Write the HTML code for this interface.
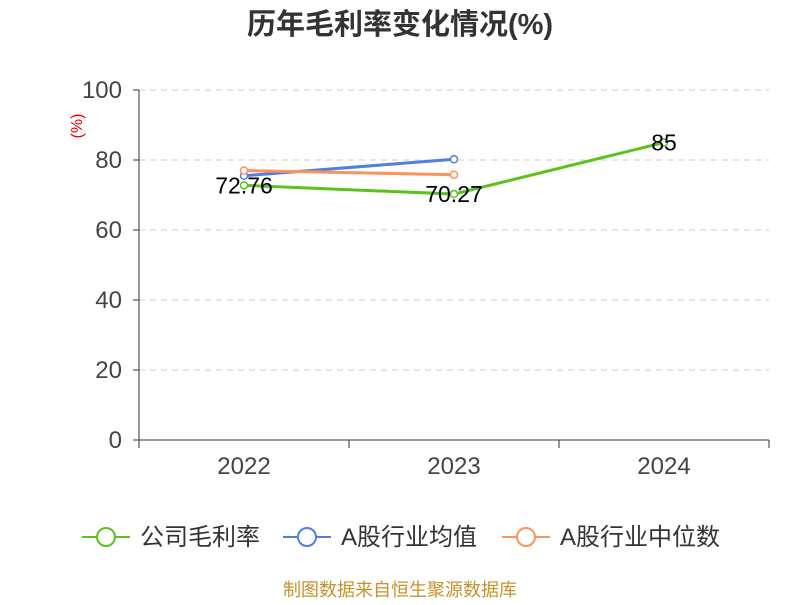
<!DOCTYPE html>
<html><head><meta charset="utf-8">
<style>
body{margin:0;background:#fff;font-family:"Liberation Sans","Noto Sans CJK SC",sans-serif;}
#wrap{position:relative;width:800px;height:600px;}
svg text{font-family:"Liberation Sans","Noto Sans CJK SC",sans-serif;}
</style></head><body>
<div id="wrap">
<svg id="chart" width="800" height="600"></svg>
</div>
<script>
const categories=["2022","2023","2024"];
const companyValues=[72.76,70.27,85];
const avgValues=[75.5,80.2,null];
const medianValues=[77,75.8,null];
const yTicks=[0,20,40,60,80,100];
const companyLabels=["72.76","70.27","85"];
const NS="http://www.w3.org/2000/svg";
const svg=document.getElementById('chart');
const L=139,R=769,T=90,B=440;
const bw=(R-L)/categories.length;
const xs=i=>L+bw*(i+0.5);
const ys=v=>B-(v/100)*(B-T);
function mk(tag,attrs,parent){const e=document.createElementNS(NS,tag);for(const k in attrs)e.setAttribute(k,attrs[k]);(parent||svg).appendChild(e);return e;}
let t=mk('text',{x:400,y:34,'text-anchor':'middle','font-size':29,'font-weight':'bold',fill:'#333'});
t.textContent='历年毛利率变化情况(%)';
t=mk('text',{x:82,y:126,'text-anchor':'middle','font-size':16,fill:'#e00',transform:'rotate(-90 82 126)'});
t.textContent='(%)';
yTicks.forEach(v=>{const y=ys(v);
 if(v>0){const g=mk('line',{x1:L,x2:R,y1:y,y2:y,stroke:'#ccc','stroke-dasharray':'6,5'});}
 const tk=mk('line',{x1:L-6,x2:L,y1:y,y2:y,stroke:'#333'});
 const tl=mk('text',{x:L-17,y:y+8,'text-anchor':'end','font-size':24,fill:'#444'});tl.textContent=v;});
let a=mk('line',{x1:L,x2:L,y1:T,y2:B,stroke:'#333'});
a=mk('line',{x1:L,x2:R,y1:B,y2:B,stroke:'#333'});
for(let i=0;i<=categories.length;i++){const x=L+bw*i;const tk=mk('line',{x1:x,x2:x,y1:B,y2:B+8,stroke:'#333'});}
categories.forEach((c,i)=>{const tl=mk('text',{x:xs(i),y:474,'text-anchor':'middle','font-size':24,fill:'#444'});tl.textContent=c;});
function series(vals,color,name){
 const pts=vals.map((v,i)=>v==null?null:[xs(i),ys(v)]).filter(p=>p);
 const pl=mk('polyline',{points:pts.map(p=>p.join(',')).join(' '),fill:'none',stroke:color,'stroke-width':3});
 
 pts.forEach(p=>{const c=mk('circle',{cx:p[0],cy:p[1],r:3.5,fill:'#fff',stroke:color,'stroke-width':1.5});});
}
series(avgValues,'#4f7fe0','a-share-average');
series(medianValues,'#ff915a','a-share-median');
series(companyValues,'#5ac21e','company-gross-margin');
companyValues.forEach((v,i)=>{const tl=mk('text',{x:xs(i),y:ys(v)+8,'text-anchor':'middle','font-size':23,fill:'#000'});tl.textContent=companyLabels[i];});
const legend=[["公司毛利率","#5ac21e",82],["A股行业均值","#4f7fe0",283],["A股行业中位数","#ff915a",502]];
legend.forEach(([n,c,x])=>{const g=mk('g',{});
 mk('line',{x1:x,x2:x+48,y1:537,y2:537,stroke:c,'stroke-width':2},g);
 mk('circle',{cx:x+24,cy:537,r:9,fill:'#fff',stroke:c,'stroke-width':2},g);
 const tt=mk('text',{x:x+58,y:545,'font-size':24,fill:'#333'},g);tt.textContent=n;});
t=mk('text',{x:400,y:596,'text-anchor':'middle','font-size':18,fill:'#c8922a'});
t.textContent='制图数据来自恒生聚源数据库';
</script>
</body></html>
